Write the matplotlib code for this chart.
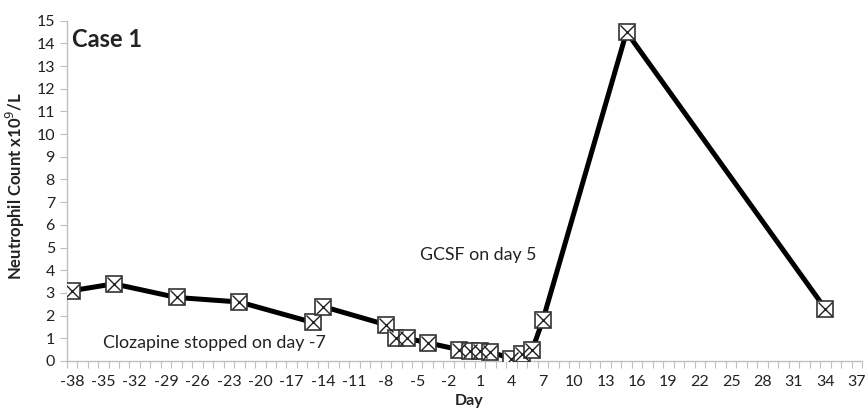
"""
Neutrophil count over time, case 1 (clozapine stop, GCSF on day 5).
"""

import matplotlib.pyplot as plt
import numpy as np

plt.rcParams["font.family"] = ["Lato", "DejaVu Sans"]

# days relative to clozapine reference, and counts (x10^9/L)
days = [-38, -34, -28, -22, -15, -14, -8, -7, -6, -4, -1, 0, 1, 2, 4, 5, 6, 7, 15, 34]
counts = [3.1, 3.4, 2.8, 2.6, 1.7, 2.4, 1.6, 1.0, 1.0, 0.8, 0.5, 0.45, 0.45, 0.4, 0.1, 0.3, 0.5, 1.8, 14.5, 2.3]

x_labels = list(range(-38, 38, 3))
y_ticks = list(range(0, 16))

fig = plt.figure(figsize=(8.65, 4.18), dpi=100)
ax = fig.add_axes([0.0771, 0.1364, 0.9194, 0.8141])

ax.plot(days, counts, color="black", lw=3.6, zorder=2)
ax.plot(days, counts, ls="none", marker="s", ms=12, mfc="white",
        mec="#333333", mew=1.2, zorder=3)
ax.plot(days, counts, ls="none", marker="x", ms=10, mec="#222222",
        mew=1.0, zorder=4)

ax.set_xlim(-38.5, 37.5)
ax.set_ylim(0, 15)

ax.set_xticks(x_labels)
ax.set_xticklabels([str(v) for v in x_labels])
ax.set_xticks(np.arange(-38.5, 38.0, 1.0), minor=True)
ax.tick_params(axis="x", which="major", length=0, pad=10, labelsize=11.5, colors="#222222")
ax.tick_params(axis="x", which="minor", length=5, width=0.8, color="#bfbfbf", direction="out")

ax.set_yticks(y_ticks)
ax.tick_params(axis="y", which="major", length=5, width=0.8, color="#bfbfbf",
               labelsize=11.5, labelcolor="#222222")

for side in ("top", "right"):
    ax.spines[side].set_visible(False)
for side in ("left", "bottom"):
    ax.spines[side].set_color("#bfbfbf")
    ax.spines[side].set_linewidth(1.0)

ax.set_xlabel("Day", fontsize=11.5, fontweight="bold", color="#222222")
ax.xaxis.set_label_coords(0.506, -0.098)
ax.set_ylabel("Neutrophil Count x10$^{9}$/L", fontsize=12, fontweight="bold", color="#222222")
ax.yaxis.set_label_coords(-0.05, 0.515)

ax.text(-38, 14.15, "Case 1", fontsize=17, fontweight="bold", color="#222222", va="center")
ax.text(-35, 0.8, "Clozapine stopped on day -7", fontsize=12.8, color="#222222", va="center")
ax.text(-4.7, 4.67, "GCSF on day 5", fontsize=12.8, color="#222222", va="center")

fig.savefig("out.png", dpi=100)
